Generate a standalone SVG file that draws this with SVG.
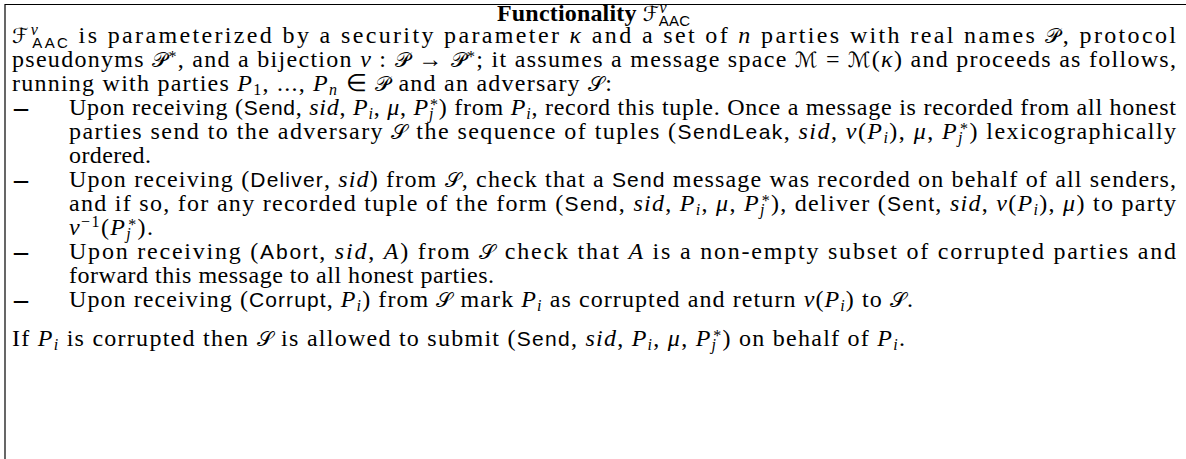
<svg xmlns="http://www.w3.org/2000/svg" width="1186" height="459" viewBox="0 0 1186 459">
  <style>
    .t { font-family: "Liberation Serif", serif; font-size: 24px; fill: #000; }
    .b { font-weight: bold; }
    .i { font-style: italic; }
    .ss { font-family: "Liberation Sans", sans-serif; font-size: 21px; }
    .sc { font-family: "DejaVu Serif", "DejaVu Sans", serif; font-style: normal; font-size: 21px; }
    .sub { font-size: 16px; baseline-shift: -4px; }
    .sup { font-size: 16px; baseline-shift: 8px; }
    .ast { font-size: 16px; baseline-shift: 5px; }
    .subss { font-family: "Liberation Sans", sans-serif; font-size: 15px; baseline-shift: -5px; }
    .dash { font-family: "Liberation Serif", serif; font-size: 28px; font-weight: bold; fill: #000; }
    .frame { stroke: #000; stroke-width: 1.2; fill: none; }
  </style>

  <!-- frame: top rule and left rule -->
  <g id="frame">
    <line class="frame" x1="5" y1="4.5" x2="1186" y2="4.5"/>
    <line class="frame" x1="5" y1="4" x2="5" y2="459"/>
  </g>

  <!-- heading -->
  <g id="title">
    <text class="t" x="497" y="21" textLength="193" lengthAdjust="spacing"><tspan class="b">Functionality</tspan> <tspan class="sc">ℱ</tspan><tspan class="sup i">ν</tspan><tspan class="subss" dx="-8">AAC</tspan></text>
  </g>

  <!-- introduction paragraph -->
  <g id="intro">
    <text class="t" x="12" y="43" textLength="1164" lengthAdjust="spacing"><tspan class="sc">ℱ</tspan><tspan class="sup i">ν</tspan><tspan class="subss" dx="-8">AAC</tspan> is parameterized by a security parameter <tspan class="i">κ</tspan> and a set of <tspan class="i">n</tspan> parties with real names <tspan class="sc">𝒫</tspan>, protocol</text>
    <text class="t" x="12" y="67" textLength="1164" lengthAdjust="spacing">pseudonyms <tspan class="sc">𝒫</tspan><tspan class="ast">*</tspan>, and a bijection <tspan class="i">ν</tspan> : <tspan class="sc">𝒫</tspan> → <tspan class="sc">𝒫</tspan><tspan class="ast">*</tspan>; it assumes a message space <tspan class="sc">ℳ</tspan> = <tspan class="sc">ℳ</tspan>(<tspan class="i">κ</tspan>) and proceeds as follows,</text>
    <text class="t" x="12" y="91" textLength="600" lengthAdjust="spacing">running with parties <tspan class="i">P</tspan><tspan class="sub">1</tspan>, ..., <tspan class="i">P</tspan><tspan class="sub i">n</tspan> ∈ <tspan class="sc">𝒫</tspan> and an adversary <tspan class="sc">𝒮</tspan>:</text>
  </g>

  <!-- item: Send -->
  <g id="item-send">
    <text class="dash" x="14" y="116">–</text>
    <text class="t" x="69" y="115" textLength="1107" lengthAdjust="spacing">Upon receiving (<tspan class="ss">Send</tspan>, <tspan class="i">sid</tspan>, <tspan class="i">P</tspan><tspan class="sub i">i</tspan>, <tspan class="i">μ</tspan>, <tspan class="i">P</tspan><tspan class="sub i">j</tspan><tspan class="ast" dx="-4">*</tspan>) from <tspan class="i">P</tspan><tspan class="sub i">i</tspan>, record this tuple. Once a message is recorded from all honest</text>
    <text class="t" x="69" y="139" textLength="1107" lengthAdjust="spacing">parties send to the adversary <tspan class="sc">𝒮</tspan> the sequence of tuples (<tspan class="ss">SendLeak</tspan>, <tspan class="i">sid</tspan>, <tspan class="i">ν</tspan>(<tspan class="i">P</tspan><tspan class="sub i">i</tspan>), <tspan class="i">μ</tspan>, <tspan class="i">P</tspan><tspan class="sub i">j</tspan><tspan class="ast" dx="-4">*</tspan>) lexicographically</text>
    <text class="t" x="69" y="163" textLength="82" lengthAdjust="spacing">ordered.</text>
  </g>

  <!-- item: Deliver -->
  <g id="item-deliver">
    <text class="dash" x="14" y="188">–</text>
    <text class="t" x="69" y="187" textLength="1107" lengthAdjust="spacing">Upon receiving (<tspan class="ss">Deliver</tspan>, <tspan class="i">sid</tspan>) from <tspan class="sc">𝒮</tspan>, check that a <tspan class="ss">Send</tspan> message was recorded on behalf of all senders,</text>
    <text class="t" x="69" y="211" textLength="1107" lengthAdjust="spacing">and if so, for any recorded tuple of the form (<tspan class="ss">Send</tspan>, <tspan class="i">sid</tspan>, <tspan class="i">P</tspan><tspan class="sub i">i</tspan>, <tspan class="i">μ</tspan>, <tspan class="i">P</tspan><tspan class="sub i">j</tspan><tspan class="ast" dx="-4">*</tspan>), deliver (<tspan class="ss">Sent</tspan>, <tspan class="i">sid</tspan>, <tspan class="i">ν</tspan>(<tspan class="i">P</tspan><tspan class="sub i">i</tspan>), <tspan class="i">μ</tspan>) to party</text>
    <text class="t" x="69" y="235" textLength="84" lengthAdjust="spacing"><tspan class="i">ν</tspan><tspan class="sup">−1</tspan>(<tspan class="i">P</tspan><tspan class="sub i">j</tspan><tspan class="ast" dx="-4">*</tspan>).</text>
  </g>

  <!-- item: Abort -->
  <g id="item-abort">
    <text class="dash" x="14" y="260">–</text>
    <text class="t" x="69" y="259" textLength="1107" lengthAdjust="spacing">Upon receiving (<tspan class="ss">Abort</tspan>, <tspan class="i">sid</tspan>, <tspan class="i">A</tspan>) from <tspan class="sc">𝒮</tspan> check that <tspan class="i">A</tspan> is a non-empty subset of corrupted parties and</text>
    <text class="t" x="69" y="283" textLength="425" lengthAdjust="spacing">forward this message to all honest parties.</text>
  </g>

  <!-- item: Corrupt -->
  <g id="item-corrupt">
    <text class="dash" x="14" y="308">–</text>
    <text class="t" x="69" y="307" textLength="844" lengthAdjust="spacing">Upon receiving (<tspan class="ss">Corrupt</tspan>, <tspan class="i">P</tspan><tspan class="sub i">i</tspan>) from <tspan class="sc">𝒮</tspan> mark <tspan class="i">P</tspan><tspan class="sub i">i</tspan> as corrupted and return <tspan class="i">ν</tspan>(<tspan class="i">P</tspan><tspan class="sub i">i</tspan>) to <tspan class="sc">𝒮</tspan>.</text>
  </g>

  <!-- closing remark -->
  <g id="closing">
    <text class="t" x="12" y="346" textLength="893" lengthAdjust="spacing">If <tspan class="i">P</tspan><tspan class="sub i">i</tspan> is corrupted then <tspan class="sc">𝒮</tspan> is allowed to submit (<tspan class="ss">Send</tspan>, <tspan class="i">sid</tspan>, <tspan class="i">P</tspan><tspan class="sub i">i</tspan>, <tspan class="i">μ</tspan>, <tspan class="i">P</tspan><tspan class="sub i">j</tspan><tspan class="ast" dx="-4">*</tspan>) on behalf of <tspan class="i">P</tspan><tspan class="sub i">i</tspan>.</text>
  </g>
</svg>
